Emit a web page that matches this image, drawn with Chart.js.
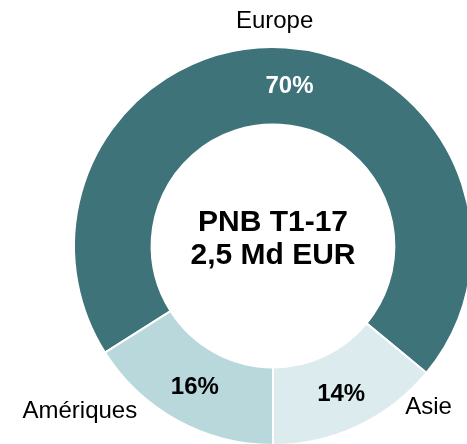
<!DOCTYPE html>
<html>
<head>
<meta charset="utf-8">
<script src="https://cdn.jsdelivr.net/npm/chart.js@4/dist/chart.umd.min.js"></script>
<style>
    html, body {
        margin: 0;
        padding: 0;
        width: 467px;
        height: 444px;
        overflow: hidden;
        background: #ffffff;
    }

    #wrap {
        position: absolute;
        left: 0;
        top: 0;
        width: 546px;
        height: 492px;
    }
</style>
</head>
<body>
<div id="wrap">
    <canvas id="graficoPnb" width="546" height="492"></canvas>
</div>

<script>
const regions = ["Europe", "Asie", "Amériques"];
const shares = [70, 14, 16];
const centerLines = ["PNB T1-17", "2,5 Md EUR"];

const colors = ["#3e737a", "#dcebee", "#b8d8dc"];
const pctColors = ["#ffffff", "#000000", "#000000"];

// small nudges for the percent labels (degrees, px from ring middle)
const pctNudge = [
    { da: 2.3, dr: 0 },
    { da: 0.5, dr: 3 },
    { da: 0.2, dr: 1 }
];

// region names around the ring: angle from top (deg), distance past the rim
const namePos = [
    { a: 0.4, dr: 26 },
    { a: 136, dr: 25 },
    { a: 229.5, dr: 55 }
];

const FONT = "'Liberation Sans', Arial, sans-serif";

const labelsPlugin = {
    id: "pnbLabels",
    afterDatasetsDraw(chart) {
        const ctx = chart.ctx;
        const arcs = chart.getDatasetMeta(0).data;

        ctx.save();
        ctx.textAlign = "center";
        ctx.textBaseline = "middle";

        arcs.forEach((arc, i) => {
            const p = arc.getProps(["x", "y", "startAngle", "endAngle", "innerRadius", "outerRadius"], true);

            // percentage inside the slice
            const mid = (p.startAngle + p.endAngle) / 2 + pctNudge[i].da * Math.PI / 180;
            const r = (p.innerRadius + p.outerRadius) / 2 + pctNudge[i].dr;
            ctx.font = "bold 24px " + FONT;
            ctx.fillStyle = pctColors[i];
            ctx.fillText(shares[i] + "%", p.x + Math.cos(mid) * r, p.y + Math.sin(mid) * r);

            // region name outside the ring
            const a = (namePos[i].a - 90) * Math.PI / 180;
            const ro = p.outerRadius + namePos[i].dr;
            ctx.font = "24px " + FONT;
            ctx.fillStyle = "#000000";
            ctx.fillText(regions[i], p.x + Math.cos(a) * ro, p.y + Math.sin(a) * ro);
        });

        // text in the hole
        const c = arcs[0];
        ctx.font = "bold 30px " + FONT;
        ctx.fillStyle = "#000000";
        ctx.fillText(centerLines[0], c.x, c.y - 23);
        ctx.fillText(centerLines[1], c.x, c.y + 10);

        ctx.restore();
    }
};

const ctx = document.getElementById("graficoPnb");

new Chart(ctx, {
    type: "doughnut",

    data: {
        labels: regions,
        datasets: [{
            data: shares,
            backgroundColor: colors,
            borderColor: "#ffffff",
            borderWidth: 2
        }]
    },

    options: {
        responsive: false,
        animation: false,
        cutout: "61%",
        // Europe starts where Amériques ends (bottom + 16%)
        rotation: 180 + 3.6 * shares[2],

        layout: {
            padding: { left: 73, right: 73, top: 46, bottom: 46 }
        },

        plugins: {
            legend: { display: false },
            tooltip: { enabled: false }
        }
    },

    plugins: [labelsPlugin]
});
</script>
</body>
</html>
